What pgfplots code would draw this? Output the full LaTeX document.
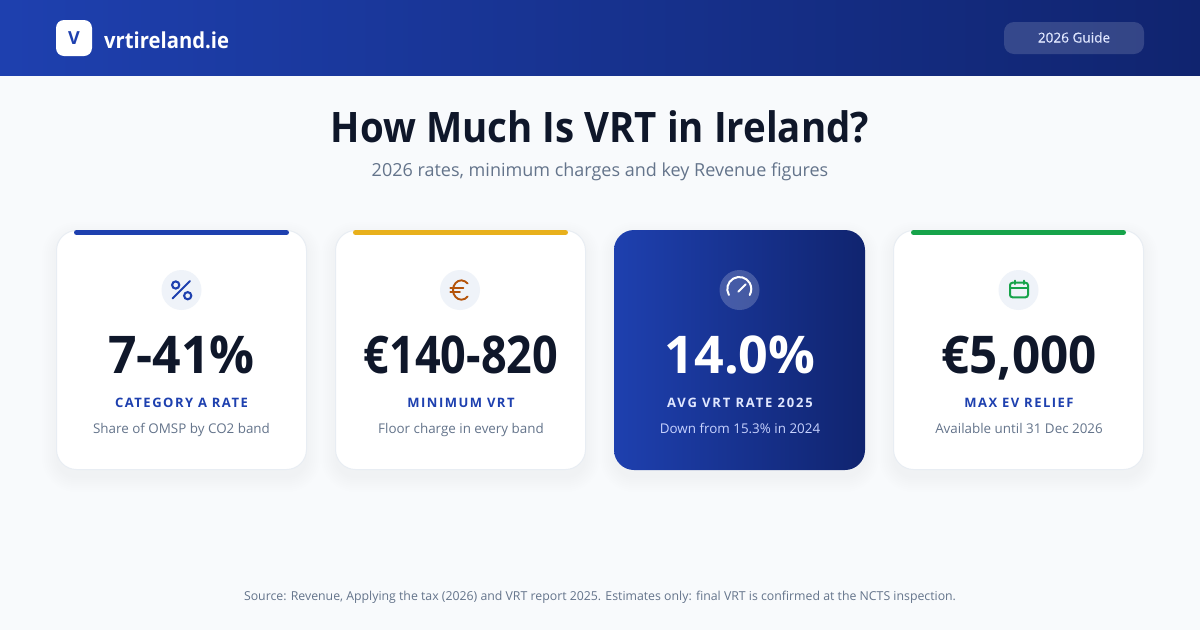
\documentclass[border=0pt]{standalone}
\usepackage{pgfplots}
\pgfplotsset{compat=1.18}
\usepackage{fontspec}
\setmainfont{Open Sans}
\definecolor{bg}{HTML}{F8FAFC}
\definecolor{blueA}{HTML}{1E40AF}
\definecolor{blueB}{HTML}{10246F}
\definecolor{ink}{HTML}{0F172A}
\definecolor{slateT}{HTML}{64748B}
\definecolor{gold}{HTML}{E8B01C}
\definecolor{greenI}{HTML}{16A34A}
\definecolor{amberI}{HTML}{B45309}
\definecolor{iconbg}{HTML}{EFF3F9}
\definecolor{edge}{HTML}{E8EDF3}
\definecolor{lab3}{HTML}{E0E7FF}
\definecolor{desc3}{HTML}{C7D2FE}
\newcommand{\fs}[1]{\fontsize{#1}{#1}\selectfont}
\newcommand{\shadow}[2]{%
  \fill[black,opacity=.004,rounded corners=34pt] (#1-14,230-8) rectangle (#2+14,470+22);
  \fill[black,opacity=.004,rounded corners=32pt] (#1-12,230-6) rectangle (#2+12,470+20);
  \fill[black,opacity=.004,rounded corners=30pt] (#1-10,230-4) rectangle (#2+10,470+18);
  \fill[black,opacity=.004,rounded corners=28pt] (#1-8,230-2) rectangle (#2+8,470+16);
  \fill[black,opacity=.004,rounded corners=26pt] (#1-6,230) rectangle (#2+6,470+14);
  \fill[black,opacity=.004,rounded corners=24pt] (#1-4,230+2) rectangle (#2+4,470+12);
  \fill[black,opacity=.004,rounded corners=22pt] (#1-2,230+2) rectangle (#2+2,470+10);
  \fill[black,opacity=.004,rounded corners=20pt] (#1,230+2) rectangle (#2,470+8);
}
\newcommand{\cardtext}[8]{%
  \node[anchor=base,inner sep=0pt,text=#2] at (#1,373) {\fs{52}\bfseries\addfontfeature{FakeStretch=#8}#5};
  \node[anchor=base,inner sep=0pt,text=#3] at (#1,407) {\fs{13}\addfontfeature{LetterSpace=11.5}\bfseries #6};
  \node[anchor=base,inner sep=0pt,text=#4] at (#1,433) {\fs{13.4}#7};
}
\begin{document}
\begin{tikzpicture}
\begin{axis}[
  scale only axis, width=1200pt, height=630pt,
  xmin=0, xmax=1200, ymin=0, ymax=630, y dir=reverse,
  hide axis, clip=false]
% page
\fill[bg] (0,0) rectangle (1200,630);
% header
\shade[left color=blueA,right color=blueB] (0,0) rectangle (1200,75.6);
\fill[white,rounded corners=8pt] (56,20) rectangle (92,56);
\node[inner sep=0pt,text=blueA] at (74,38) {\fs{18}\bfseries V};
\node[anchor=base west,inner sep=0pt,text=white] at (104,48) {\fs{22}\bfseries\addfontfeature{FakeStretch=0.92}vrtireland.ie};
\fill[white,opacity=.15,rounded corners=10pt] (1004,22) rectangle (1144,54);
\node[anchor=base,inner sep=0pt,text=lab3] at (1074,42.5) {\fs{13.6}\addfontfeature{FakeBold=0.4}2026 Guide};
% title
\node[anchor=base,inner sep=0pt,text=ink] at (600,142) {\fs{42}\bfseries\addfontfeature{FakeStretch=0.915}How Much Is VRT in Ireland?};
\node[anchor=base,inner sep=0pt,text=slateT] at (600,176) {\fs{18}2026 rates, minimum charges and key Revenue figures};
% shadows
\shadow{56}{307}
\shadow{335}{586}
\shadow{614}{865}
\shadow{893}{1144}
% cards
\filldraw[fill=white,draw=edge,line width=1pt,rounded corners=20pt] (56.5,230.5) rectangle (306.5,469.5);
\filldraw[fill=white,draw=edge,line width=1pt,rounded corners=20pt] (335.5,230.5) rectangle (585.5,469.5);
\shade[left color=blueA,right color=blueB,rounded corners=20pt] (614,230) rectangle (865,470);
\filldraw[fill=white,draw=edge,line width=1pt,rounded corners=20pt] (893.5,230.5) rectangle (1143.5,469.5);
% top bars
\addplot[blueA,line width=5pt,line cap=round] coordinates {(76.5,232.5) (286.5,232.5)};
\addplot[gold,line width=5pt,line cap=round] coordinates {(355.5,232.5) (565.5,232.5)};
\addplot[greenI,line width=5pt,line cap=round] coordinates {(913.5,232.5) (1123.5,232.5)};
% icon discs
\fill[iconbg] (181.5,290) circle[radius=20pt];
\fill[iconbg] (460,290) circle[radius=20pt];
\fill[white,opacity=.2] (739.5,290) circle[radius=20pt];
\fill[iconbg] (1018.5,290) circle[radius=20pt];
% percent icon
\draw[blueA,line width=2.1pt,line cap=round] (172.5,298.5) -- (190,281);
\draw[blueA,line width=2.1pt] (175.7,285) circle[radius=3.6pt];
\draw[blueA,line width=2.1pt] (187.7,295.7) circle[radius=3.6pt];
% euro icon
\draw[amberI,line width=1.9pt,line cap=round] (450.3,287.8) -- (463.3,287.8);
\draw[amberI,line width=1.9pt,line cap=round] (450.3,292.2) -- (460,292.2);
\draw[amberI,line width=1.9pt,line cap=round] (467.6,283.5) .. controls (466,282) and (464,280.3) .. (461.5,280.3)
  .. controls (456.8,280.3) and (453,284.6) .. (453,290)
  .. controls (453,295.4) and (456.8,299.7) .. (461.5,299.7)
  .. controls (464,299.7) and (466,298.5) .. (467.6,296.5);
% gauge icon
\draw[white,line width=2pt,line cap=round] (728.9,295) arc[start angle=210,end angle=-30,radius=12pt];
\draw[white,line width=2pt,line cap=round] (738.3,291.7) -- (745.6,284.4);
% calendar icon
\draw[greenI,line width=2pt,rounded corners=2.5pt] (1010,282.7) rectangle (1028,297.3);
\draw[greenI,line width=2pt] (1010,287.7) -- (1028,287.7);
\draw[greenI,line width=2pt,line cap=round] (1014.5,280.5) -- (1014.5,284);
\draw[greenI,line width=2pt,line cap=round] (1023.5,280.5) -- (1023.5,284);
% text
\cardtext{181.5}{ink}{blueA}{slateT}{7-41\%}{CATEGORY A RATE}{Share of OMSP by CO2 band}{0.96}
\cardtext{461}{ink}{blueA}{slateT}{€140-820}{MINIMUM VRT}{Floor charge in every band}{0.865}
\cardtext{740}{white}{lab3}{desc3}{14.0\%}{\addfontfeature{LetterSpace=14}AVG VRT RATE 2025}{Down from 15.3\% in 2024}{1}
\cardtext{1019}{ink}{blueA}{slateT}{€5,000}{MAX EV RELIEF}{Available until 31 Dec 2026}{0.95}
% source
\node[anchor=base,inner sep=0pt,text=slateT] at (600,600) {\fs{12.3}Source: Revenue, Applying the tax (2026) and VRT report 2025. Estimates only: final VRT is confirmed at the NCTS inspection.};
\end{axis}
\end{tikzpicture}
\end{document}
